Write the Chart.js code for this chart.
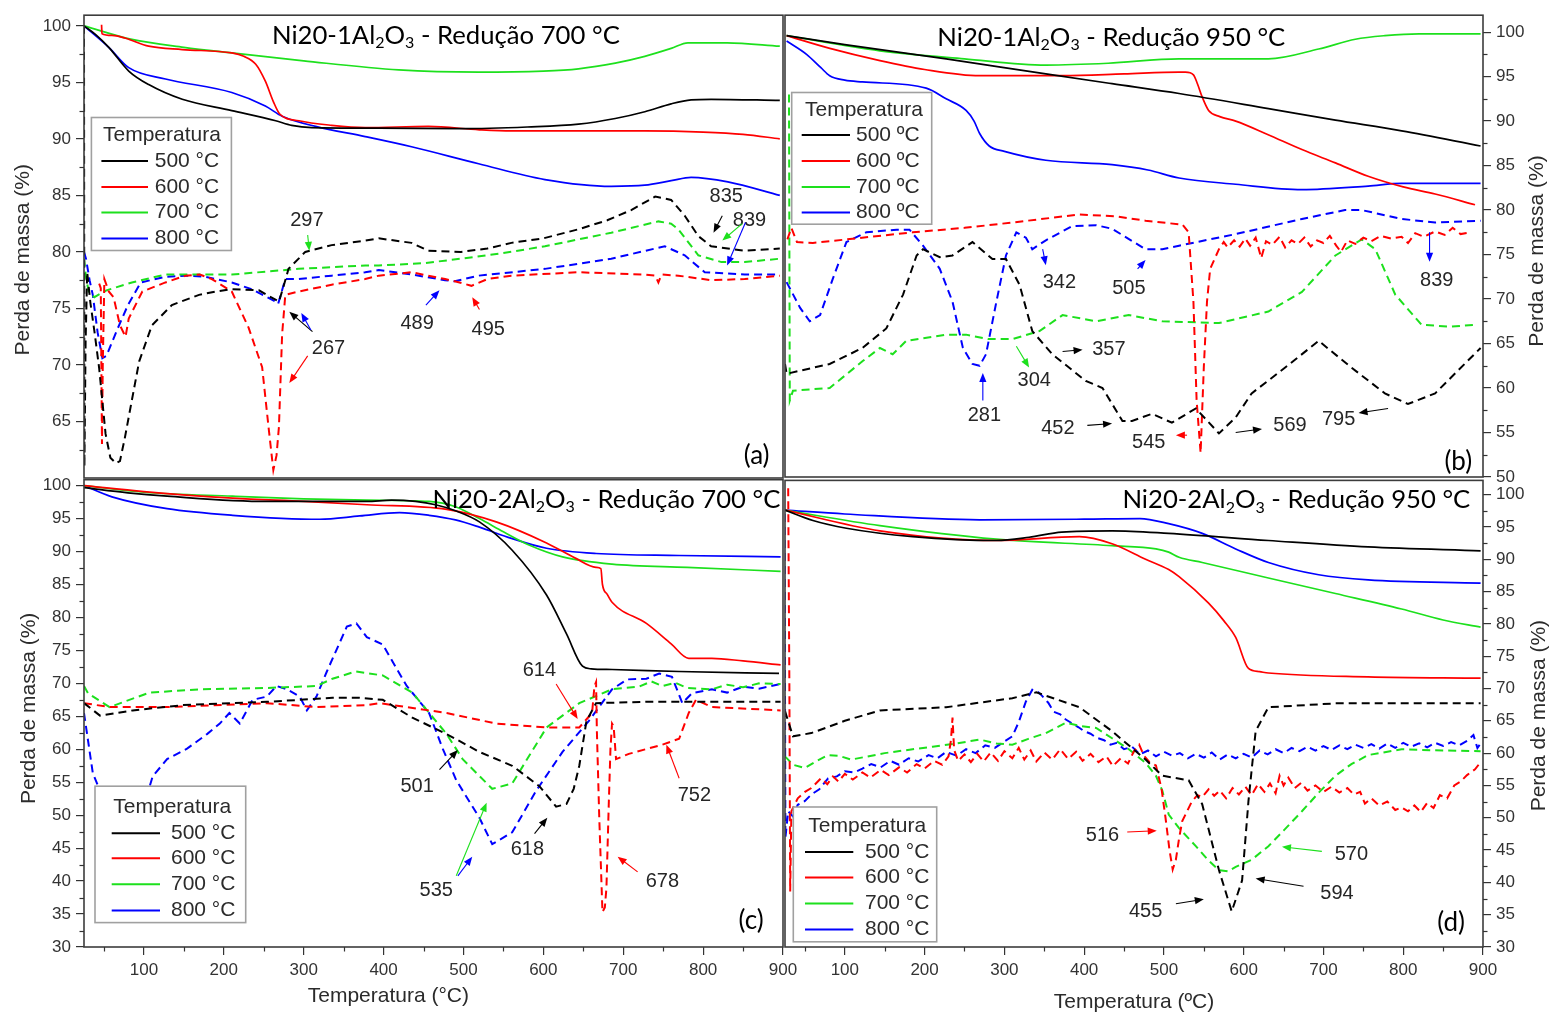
<!DOCTYPE html>
<html lang="pt">
<head>
<meta charset="utf-8">
<title>Perda de massa - Ni20-Al2O3</title>
<script src="https://cdn.jsdelivr.net/npm/chart.js@4.4.1/dist/chart.umd.min.js"></script>
<style>
html,body{margin:0;padding:0;background:#fff;}
#wrap{position:relative;width:1550px;height:1016px;overflow:hidden;background:#fff;}
#wrap canvas{position:absolute;left:0;top:0;}
</style>
</head>
<body>
<div id="wrap">
<canvas id="pa" width="1550" height="1016"></canvas>
<canvas id="pb" width="1550" height="1016"></canvas>
<canvas id="pc" width="1550" height="1016"></canvas>
<canvas id="pd" width="1550" height="1016"></canvas>
</div>
<script>
// ---- labels and ticks ----
const SERIES_DEG = ['500 °C', '600 °C', '700 °C', '800 °C'];
const SERIES_ORD = ['500 ºC', '600 ºC', '700 ºC', '800 ºC'];
const X_TICKS = [100, 200, 300, 400, 500, 600, 700, 800, 900];
const Y_TICKS_A = [65, 70, 75, 80, 85, 90, 95, 100];
const Y_TICKS_B = [50, 55, 60, 65, 70, 75, 80, 85, 90, 95, 100];
const Y_TICKS_CD = [30, 35, 40, 45, 50, 55, 60, 65, 70, 75, 80, 85, 90, 95, 100];

// ---- (a) Ni20-1Al2O3, redução 700 °C : [temperatura, %] ----
const aTg500 = [[25,100],[40,99.2],[56,98.1],[81,96.0],[106,94.8],[148,93.5],[210,92.5],[265,91.6],[285,91.2],[310,91.0],[394,90.95],[497,90.9],[580,91.05],[644,91.3],[690,91.8],[727,92.4],[760,93.1],[785,93.45],[810,93.5],[896,93.4]];
const aTg600 = [[47,100.1],[47.5,99.3],[60,99.15],[77,98.9],[106,98.2],[148,97.9],[210,97.6],[225,97.3],[240,96.6],[252,95.1],[262,93.3],[270,92.2],[294,91.6],[335,91.2],[377,91.0],[456,91.1],[520,90.8],[560,90.7],[727,90.7],[800,90.6],[850,90.4],[896,90.0]];
const aTg700 = [[25,100],[85,98.8],[150,98.1],[210,97.6],[300,96.9],[419,96.1],[519,95.9],[600,96.0],[644,96.2],[690,96.7],[727,97.3],[760,98.0],[781,98.5],[830,98.5],[896,98.2]];
const aTg800 = [[25,100],[56,98.1],[81,96.3],[127,95.3],[210,94.1],[252,92.9],[273,92.0],[315,91.1],[377,90.2],[435,89.3],[519,87.8],[602,86.4],[685,85.8],[727,85.9],[760,86.3],[785,86.6],[831,86.2],[896,85.0]];
const aDtg500 = [[25,100],[25.5,61],[27,72],[29,78.2],[33,75.5],[38,73],[44,69.7],[52,63.9],[58,61.8],[65,61.3],[70,61.5],[76,63.5],[81,65.4],[94,70.3],[110,73.5],[135,75.3],[169,76.2],[190,76.5],[210,76.7],[244,76.6],[269,75.6],[275,77.0],[281,78.5],[302,80.0],[335,80.6],[377,81.0],[394,81.2],[435,80.8],[456,80.1],[497,80.0],[530,80.3],[560,80.8],[600,81.2],[644,82.0],[680,82.8],[710,83.7],[740,84.9],[760,84.6],[777,83.2],[794,81.4],[810,80.5],[852,80.1],[896,80.3]];
const aDtg600 = [[44,77.2],[46,76.8],[47.5,63],[48.5,70],[50.5,77.6],[56,76.5],[62,76.0],[70,73.5],[77,72.5],[81,74.1],[98,76.5],[127,77.3],[152,77.9],[170,78.0],[185,77.6],[210,76.5],[231,73.3],[248,69.8],[256,64.5],[262,60.7],[266,62],[269,64.5],[273,72.7],[277,76.2],[294,76.5],[335,77.1],[377,77.6],[394,77.9],[435,78.2],[477,77.6],[495,77.3],[510,77.0],[530,77.6],[560,77.9],[644,78.2],[727,78.0],[740,77.9],[744,77.3],[748,78.0],[769,77.9],[810,77.5],[852,77.6],[896,77.9]];
const aDtg700 = [[25,79.4],[28,77.5],[31,76.5],[38,76.0],[53,76.6],[85,77.3],[127,78.0],[210,78.0],[294,78.5],[377,78.8],[394,78.8],[450,79.0],[497,79.4],[550,79.9],[602,80.5],[685,81.7],[744,82.7],[760,82.5],[769,82.0],[794,79.7],[823,79.1],[852,79.1],[896,79.4]];
const aDtg800 = [[25,80.0],[27.5,79.4],[32,77.5],[36,76.2],[42,72.9],[48,70.6],[53,70.8],[67,73.2],[80,75.3],[96,77.3],[127,77.8],[152,77.9],[177,77.8],[210,77.3],[235,76.7],[265,75.6],[268,75.4],[277,77.6],[294,77.6],[335,77.9],[377,78.2],[394,78.4],[435,78.0],[477,77.5],[489,77.4],[519,77.9],[602,78.5],[685,79.4],[752,80.5],[777,79.7],[802,78.2],[852,78.0],[896,78.0]];

// ---- (b) Ni20-1Al2O3, redução 950 °C ----
const bTg500 = [[27,99.6],[100,98.6],[227,97.0],[352,95.3],[435,94.2],[519,93.1],[631,91.4],[715,90.1],[798,88.9],[897,87.2]];
const bTg600 = [[27,99.6],[80,98.2],[144,96.8],[200,95.8],[269,95.1],[373,95.1],[450,95.3],[519,95.5],[527,95.5],[537,95.2],[542,94.2],[548,92.7],[556,91.2],[570,90.5],[590,90.0],[630,88.5],[673,86.8],[715,85.3],[756,83.8],[800,82.6],[840,81.8],[890,80.6]];
const bTg700 = [[27,99.6],[144,97.9],[250,97.0],[352,96.3],[430,96.5],[519,97.0],[631,97.0],[694,98.1],[740,99.2],[777,99.6],[820,99.8],[897,99.8]];
const bTg800 = [[27,99.0],[52,97.5],[70,96.0],[81,95.1],[100,94.6],[122,94.4],[202,93.7],[227,92.5],[252,91.2],[262,90.0],[269,88.6],[281,87.2],[300,86.6],[352,85.6],[435,85.1],[480,84.5],[519,83.6],[590,82.9],[673,82.3],[756,82.7],[798,83.0],[897,83.0]];
const bDtg500 = [[25,62.7],[27,61.6],[81,62.7],[122,64.5],[152,66.7],[173,70.5],[190,74.9],[198,75.6],[219,74.7],[235,74.9],[260,76.4],[285,74.5],[302,74.5],[319,71.6],[335,66.4],[360,63.8],[381,62.3],[402,60.8],[423,60.0],[448,56.3],[460,56.3],[485,57.1],[510,56.1],[540,57.7],[569,54.9],[590,56.7],[610,59.4],[652,62.3],[694,65.3],[735,62.3],[777,59.4],[806,58.2],[840,59.4],[897,64.5]];
const bDtg600 = [[28,76.7],[33,78.0],[40,76.4],[60,76.3],[102,76.7],[185,77.5],[250,78.0],[310,78.6],[394,79.5],[440,79.3],[477,78.8],[519,78.4],[523,78.4],[531,77.5],[537,69.7],[541,58.6],[546,52.7],[550,62.3],[554,69.7],[558,73.4],[569,75.6],[575,76.4],[580,75.8],[588,76.6],[595,75.9],[602,76.8],[608,76.0],[615,76.9],[622,74.6],[628,76.5],[636,76.1],[645,77.0],[652,75.8],[660,76.6],[668,76.2],[676,76.9],[684,75.9],[692,76.6],[700,76.3],[708,77.1],[716,76.0],[722,75.3],[730,76.6],[740,76.2],[750,76.9],[760,76.5],[772,77.1],[785,76.8],[798,77.0],[806,76.3],[815,77.4],[826,77.0],[840,77.6],[852,77.2],[862,78.0],[872,77.3],[885,77.5]];
const bDtg700 = [[30,93],[31,58.6],[35,59.7],[81,60.0],[122,63.0],[144,64.5],[160,63.8],[177,65.3],[227,66.0],[252,66.0],[280,65.5],[310,65.5],[344,66.4],[373,68.2],[415,67.5],[456,68.2],[498,67.5],[569,67.3],[631,68.6],[673,70.8],[715,74.9],[748,76.7],[765,75.6],[790,70.5],[823,67.1],[860,66.9],[890,67.1]];
const bDtg800 = [[27,71.9],[44,69.0],[56,67.5],[69,68.2],[85,72.3],[102,76.4],[127,77.5],[165,77.8],[181,77.8],[198,76.0],[219,73.4],[235,69.7],[248,64.5],[260,62.7],[269,62.5],[277,63.8],[290,69.7],[302,74.9],[315,77.5],[327,76.9],[335,75.6],[352,76.6],[385,78.2],[415,78.3],[435,77.9],[477,75.6],[498,75.6],[519,76.0],[590,77.3],[673,79.0],[727,80.0],[748,80.0],[798,79.0],[840,78.6],[897,78.8]];

// ---- (c) Ni20-2Al2O3, redução 700 °C ----
const cTg500 = [[25,99.7],[80,98.9],[129,98.4],[254,97.6],[379,97.6],[410,97.8],[440,97.6],[465,97.1],[490,96.2],[520,94.5],[561,90.2],[604,83.4],[629,77.5],[649,72.6],[660,72.2],[686,72.1],[770,71.8],[895,71.5]];
const cTg600 = [[25,100],[100,99.1],[211,98.1],[300,97.6],[379,97.1],[479,96.4],[541,94.5],[604,91.3],[640,89.0],[666,87.6],[672,87.4],[674,85.0],[680,83.5],[686,82.3],[729,79.1],[760,76.0],[782,73.8],[811,73.8],[850,73.4],[897,72.8]];
const cTg700 = [[25,100],[100,99.0],[211,98.4],[300,98.0],[379,97.8],[457,97.6],[490,96.8],[520,95.0],[550,93.0],[582,91.0],[624,89.2],[686,88.1],[780,87.6],[897,87.0]];
const cTg800 = [[25,100],[60,98.3],[129,96.5],[211,95.5],[320,94.9],[370,95.4],[420,95.9],[457,95.5],[490,94.8],[520,93.7],[560,92.0],[604,90.5],[666,89.7],[770,89.4],[897,89.2]];
const cDtg500 = [[25,67.0],[45,65.1],[86,65.9],[149,66.7],[254,67.2],[336,67.8],[370,67.8],[399,67.5],[436,64.8],[479,62.3],[520,59.6],[561,57.5],[595,54.4],[616,51.3],[629,51.7],[638,54.0],[645,57.5],[654,64.3],[666,67.0],[729,67.2],[897,67.2]];
const cDtg600 = [[25,67.0],[57,66.4],[129,66.4],[254,67.0],[316,66.4],[379,66.7],[395,67.0],[479,65.5],[541,63.9],[604,63.3],[645,63.3],[661,65.5],[664,69.6],[666,70.2],[667,62.8],[670,49.6],[674,35.3],[677,36.0],[679,39.0],[682,52.1],[684,60.0],[686,63.9],[688,63.5],[691,58.5],[707,59.3],[749,60.7],[770,61.6],[782,65.5],[791,67.5],[811,66.4],[897,65.9]];
const cDtg700 = [[25,69.6],[30,68.5],[57,66.4],[107,68.6],[170,69.1],[254,69.3],[316,69.6],[336,70.7],[365,71.8],[399,71.2],[436,68.6],[479,62.3],[499,58.5],[536,54.0],[561,54.8],[604,63.3],[645,67.0],[686,69.1],[720,69.5],[735,70.3],[749,69.6],[765,70.1],[780,69.3],[811,69.1],[830,69.8],[850,69.4],[870,70.0],[897,69.9]];
const cDtg800 = [[25,65.5],[36,56.4],[45,53.7],[55,51.5],[70,50.2],[90,50.8],[105,53.5],[111,55.9],[129,58.5],[154,60.1],[179,62.3],[195,63.9],[207,65.5],[220,63.9],[236,67.5],[254,68.0],[266,69.6],[279,69.1],[295,68.0],[304,65.9],[316,68.0],[329,71.8],[354,78.6],[366,79.1],[379,77.0],[399,75.9],[416,72.3],[429,69.6],[457,65.5],[474,60.1],[491,55.3],[520,49.6],[536,45.6],[561,47.4],[591,53.7],[624,59.6],[657,64.3],[686,69.1],[705,70.6],[729,70.7],[745,71.5],[761,71.0],[774,67.0],[786,68.5],[811,69.1],[830,68.6],[850,69.5],[870,69.2],[897,69.9]];

// ---- (d) Ni20-2Al2O3, redução 950 °C ----
const dTg500 = [[25,97.6],[60,96.0],[102,94.8],[185,93.5],[290,92.9],[331,93.4],[372,94.2],[435,94.4],[506,94.0],[631,92.9],[756,91.9],[897,91.3]];
const dTg600 = [[25,97.6],[144,94.4],[290,92.9],[394,93.5],[435,92.4],[477,90.0],[506,88.4],[519,87.3],[556,83.2],[575,80.5],[590,77.9],[606,73.1],[620,72.6],[631,72.4],[756,71.8],[897,71.6]];
const dTg700 = [[25,97.6],[144,95.2],[290,93.1],[435,92.1],[490,91.6],[506,91.1],[519,90.3],[548,89.5],[631,87.1],[715,84.7],[798,82.3],[850,80.6],[897,79.5]];
const dTg800 = [[25,97.6],[100,97.0],[269,96.1],[400,96.2],[470,96.3],[506,95.5],[548,94.0],[590,91.6],[631,89.5],[694,87.6],[756,86.8],[897,86.3]];
const dDtg500 = [[25,66.5],[35,62.6],[58,63.1],[100,65.0],[144,66.6],[227,67.1],[310,68.5],[340,69.4],[394,67.1],[435,63.4],[477,59.0],[498,56.5],[531,55.8],[548,52.1],[569,41.9],[585,35.5],[598,40.3],[606,52.6],[615,63.4],[631,67.1],[715,67.7],[897,67.7]];
const dDtg600 = [[29,101],[30.5,70],[31.5,38.6],[33,51.0],[41,53.0],[50,54.0],[58,54.6],[70,56.1],[78,55.2],[85,56.4],[92,55.6],[100,56.8],[110,55.9],[122,57.0],[132,56.2],[145,57.4],[155,56.6],[168,57.8],[178,57.0],[190,58.3],[200,57.6],[212,58.8],[222,58.2],[230,59.5],[233,62.0],[235,65.5],[237,60.5],[242,58.8],[250,59.8],[258,58.6],[266,59.9],[274,58.7],[283,60.1],[292,58.8],[300,60.3],[310,59.2],[318,60.8],[325,59.0],[333,60.4],[340,58.7],[350,60.1],[360,59.0],[370,60.6],[380,59.1],[390,60.2],[398,58.8],[408,59.9],[418,58.6],[428,59.5],[436,58.0],[446,59.2],[455,58.4],[462,60.2],[469,61.3],[475,59.6],[482,58.6],[490,58.1],[497,54.5],[502,50.0],[507,45.0],[511,42.0],[515,43.5],[519,46.8],[523,49.5],[527,50.5],[535,52.5],[542,53.5],[548,53.2],[556,54.4],[563,53.4],[570,54.2],[578,53.0],[586,54.6],[594,53.6],[602,54.8],[610,53.5],[618,55.2],[626,54.0],[633,55.3],[640,53.8],[645,56.5],[650,55.0],[656,56.2],[664,54.6],[672,55.4],[680,54.2],[690,55.0],[700,54.0],[710,54.8],[720,53.9],[730,54.6],[738,53.6],[746,54.0],[752,52.2],[760,53.0],[770,51.9],[780,52.5],[790,51.2],[798,51.6],[806,51.0],[814,51.9],[822,50.9],[830,52.3],[838,51.5],[846,53.5],[855,53.0],[864,55.0],[872,55.6],[880,56.6],[890,57.5],[897,58.6]];
const dDtg700 = [[25,59.5],[35,58.2],[50,57.7],[65,58.8],[79,59.7],[92,59.6],[108,59.0],[125,59.4],[150,60.0],[185,60.6],[210,61.0],[240,61.5],[269,62.1],[290,61.5],[310,61.3],[330,62.2],[352,63.1],[377,64.7],[395,64.2],[415,63.9],[435,62.3],[456,60.6],[477,58.5],[490,56.5],[498,54.2],[506,50.5],[519,48.4],[540,45.6],[555,43.5],[569,41.9],[580,41.7],[590,42.4],[610,43.5],[631,45.6],[650,48.0],[673,51.0],[695,54.0],[715,56.5],[735,58.3],[756,59.7],[798,60.6],[850,60.4],[897,60.3]];
const dDtg800 = [[24.5,97],[25,70],[25.5,46.9],[29,51.0],[35,50.2],[41,52.0],[50,52.6],[58,53.6],[68,54.4],[79,56.1],[90,56.4],[100,57.2],[112,57.0],[122,57.6],[133,58.3],[145,57.8],[157,58.8],[168,58.2],[180,59.2],[192,58.7],[205,59.7],[216,59.2],[227,60.2],[240,59.6],[252,60.6],[264,60.0],[276,61.2],[288,60.8],[300,61.8],[310,62.6],[318,64.8],[327,68.0],[335,69.8],[341,69.6],[347,68.9],[355,67.8],[362,66.4],[370,66.0],[377,65.2],[385,64.6],[393,64.0],[400,63.4],[408,63.0],[415,62.4],[425,62.0],[433,61.3],[441,61.6],[450,60.6],[460,61.0],[470,59.8],[480,60.4],[490,59.5],[500,60.2],[510,59.6],[520,60.0],[530,59.2],[540,59.9],[550,59.3],[560,60.1],[570,59.0],[580,59.8],[590,59.2],[600,59.9],[610,59.3],[620,60.4],[630,59.8],[640,60.6],[650,60.0],[660,60.8],[670,60.3],[680,61.0],[690,60.4],[700,61.1],[710,60.5],[720,61.2],[730,60.6],[740,61.3],[750,60.8],[760,61.4],[770,60.7],[780,61.5],[790,60.8],[800,61.6],[810,61.0],[820,61.5],[830,60.9],[840,61.6],[850,61.1],[860,61.7],[870,61.2],[880,61.9],[888,62.8],[893,60.8],[897,61.5]];

// ---- drawing styles ----
const COLORS = ['#000000', '#ff0000', '#1de01d', '#0000ff'];
const SANS = "'Liberation Sans', Arial, sans-serif";
const HEAD = "Lato, 'Open Sans', sans-serif";
const INK = '#333333';

function arrow(ctx, x1, y1, x2, y2, color) {
  const a = Math.atan2(y2 - y1, x2 - x1), hl = 9, hw = 3.6;
  ctx.strokeStyle = color; ctx.fillStyle = color; ctx.lineWidth = 1.1;
  ctx.beginPath(); ctx.moveTo(x1, y1);
  ctx.lineTo(x2 - Math.cos(a) * hl * 0.7, y2 - Math.sin(a) * hl * 0.7); ctx.stroke();
  ctx.beginPath(); ctx.moveTo(x2, y2);
  ctx.lineTo(x2 - hl * Math.cos(a) + hw * Math.sin(a), y2 - hl * Math.sin(a) - hw * Math.cos(a));
  ctx.lineTo(x2 - hl * Math.cos(a) - hw * Math.sin(a), y2 - hl * Math.sin(a) + hw * Math.cos(a));
  ctx.closePath(); ctx.fill();
}

function richText(ctx, segs, cx, cy, size) {
  const big = size + 'px ' + HEAD, small = Math.round(size * 0.64) + 'px ' + HEAD;
  let w = 0;
  segs.forEach(s => { ctx.font = s[1] ? small : big; w += ctx.measureText(s[0]).width; });
  let x = cx - w / 2;
  const base = cy + size * 0.36;
  ctx.textAlign = 'left'; ctx.textBaseline = 'alphabetic'; ctx.fillStyle = '#000';
  segs.forEach(s => {
    ctx.font = s[1] ? small : big;
    ctx.fillText(s[0], x, base + (s[1] ? size * 0.16 : 0));
    x += ctx.measureText(s[0]).width;
  });
}

// decorations of one panel: frame, minor ticks, legend, notes, titles
function makeDeco(p) {
  return {
    id: 'deco_' + p.id,
    afterDatasetsDraw(chart) {
      const ctx = chart.ctx, ca = chart.chartArea;
      const xs = chart.scales.x, ys = chart.scales.y;
      const X = v => xs.getPixelForValue(v), Y = v => ys.getPixelForValue(v);
      ctx.save();

      // point labels with arrows
      p.notes.forEach(n => {
        ctx.font = '20px ' + SANS; ctx.fillStyle = '#262626';
        ctx.textAlign = 'center'; ctx.textBaseline = 'middle';
        ctx.fillText(n.t, X(n.x), Y(n.y));
        n.ar.forEach(a => arrow(ctx, X(a[1]), Y(a[2]), X(a[3]), Y(a[4]), COLORS[a[0]]));
      });

      // legend box
      const L = p.legend, bx = ca.left + L.dx, by = ca.top + L.dy;
      ctx.fillStyle = '#ffffff';
      ctx.fillRect(bx, by, L.w, L.h);
      ctx.strokeStyle = '#a0a0a0'; ctx.lineWidth = 1.6;
      ctx.strokeRect(bx, by, L.w, L.h);
      ctx.font = '21px ' + SANS; ctx.fillStyle = '#2b2b2b';
      ctx.textAlign = 'left'; ctx.textBaseline = 'middle';
      ctx.fillText('Temperatura', bx + L.tx, by + L.ty);
      L.rows.forEach((ry, i) => {
        ctx.strokeStyle = chart.data.datasets[i].borderColor; ctx.lineWidth = 2;
        ctx.beginPath(); ctx.moveTo(bx + L.l0, by + ry); ctx.lineTo(bx + L.l1, by + ry); ctx.stroke();
        ctx.fillStyle = '#2b2b2b';
        ctx.fillText(p.names[i], bx + L.lt, by + ry);
      });

      // panel title and letter
      richText(ctx, p.title, X(p.titleAt[0]), Y(p.titleAt[1]), 25.7);
      ctx.font = '26px ' + HEAD; ctx.fillStyle = '#000';
      ctx.textAlign = 'center'; ctx.textBaseline = 'middle';
      ctx.fillText(p.letter, X(p.letterAt[0]), Y(p.letterAt[1]));

      // frame
      ctx.strokeStyle = '#3c3c3c'; ctx.lineWidth = 1.6;
      ctx.strokeRect(ca.left, ca.top, ca.right - ca.left, ca.bottom - ca.top);
      ctx.restore();
    },
    afterDraw(chart) {
      const ctx = chart.ctx, ca = chart.chartArea;
      const xs = chart.scales.x, ys = chart.scales.y;
      ctx.save();
      ctx.strokeStyle = INK; ctx.lineWidth = 1.2;
      // minor ticks on the value axis
      const left = p.ySide === 'left';
      for (let v = Math.ceil(ys.min / 2.5) * 2.5; v <= ys.max; v += 2.5) {
        if (v % 5 === 0) continue;
        const py = Math.round(ys.getPixelForValue(v)) + 0.5;
        const x0 = left ? ca.left : ca.right;
        ctx.beginPath(); ctx.moveTo(x0, py); ctx.lineTo(x0 + (left ? -4.5 : 4.5), py); ctx.stroke();
      }
      // minor ticks on the temperature axis
      if (p.showX) {
        for (let v = 50; v < 900; v += 100) {
          const px = Math.round(xs.getPixelForValue(v)) + 0.5;
          ctx.beginPath(); ctx.moveTo(px, ca.bottom); ctx.lineTo(px, ca.bottom + 4.5); ctx.stroke();
        }
      }
      // axis titles
      ctx.fillStyle = '#2b2b2b'; ctx.font = '21px ' + SANS;
      ctx.textAlign = 'center'; ctx.textBaseline = 'middle';
      const tx = left ? ca.left - p.yTitleOff : ca.right + p.yTitleOff;
      ctx.save();
      ctx.translate(tx, ys.getPixelForValue(p.yTitleAt));
      ctx.rotate(-Math.PI / 2);
      ctx.fillText('Perda de massa (%)', 0, 0);
      ctx.restore();
      if (p.showX) {
        ctx.fillText(p.xTitle, xs.getPixelForValue(p.xTitleAt), ca.bottom + p.xTitleOff);
      }
      ctx.restore();
    }
  };
}

function buildPanel(p) {
  const datasets = [];
  p.dtg.forEach((d, i) => datasets.push({
    data: d, borderColor: COLORS[i], borderWidth: 2, borderDash: [8, 5],
    pointRadius: 0, tension: 0, fill: false
  }));
  p.tg.forEach((d, i) => datasets.push({
    data: d, borderColor: COLORS[i], borderWidth: 1.7,
    pointRadius: 0, cubicInterpolationMode: 'monotone', fill: false
  }));
  // legend reads colours from the first four datasets
  const tickFont = { family: SANS, size: 17 };
  new Chart(document.getElementById(p.id), {
    type: 'line',
    data: { datasets },
    options: {
      responsive: false, animation: false, devicePixelRatio: 1, events: [],
      layout: { padding: p.pad },
      plugins: { legend: { display: false }, tooltip: { enabled: false } },
      scales: {
        x: {
          type: 'linear', position: 'bottom', min: 25, max: 900, bounds: 'data',
          display: p.showX,
          afterBuildTicks: s => { s.ticks = X_TICKS.map(v => ({ value: v })); },
          afterFit: s => { s.height = p.xH; },
          grid: { drawOnChartArea: false, drawTicks: true, tickLength: 8, color: INK, lineWidth: 1.2 },
          border: { display: false },
          ticks: { color: INK, font: tickFont, padding: 5, maxRotation: 0 }
        },
        y: {
          type: 'linear', position: p.ySide, min: p.yMin, max: p.yMax, bounds: 'data',
          afterBuildTicks: s => { s.ticks = p.yTicks.map(v => ({ value: v })); },
          afterFit: s => { s.width = p.yW; },
          grid: { drawOnChartArea: false, drawTicks: true, tickLength: 8, color: INK, lineWidth: 1.2 },
          border: { display: false },
          ticks: { color: INK, font: tickFont, padding: 5 }
        }
      }
    },
    plugins: [makeDeco(p)]
  });
}

function panel(cfg) {
  buildPanel(Object.assign({}, cfg));
}

panel({
  id: 'pa', names: SERIES_DEG, ySide: 'left', showX: false,
  pad: { left: 0, right: 767, top: 11, bottom: 538 }, yW: 84, xH: 0,
  yMin: 60, yMax: 100.94, yTicks: Y_TICKS_A,
  tg: [aTg500, aTg600, aTg700, aTg800], dtg: [aDtg500, aDtg600, aDtg700, aDtg800],
  title: [['Ni20-1Al', 0], ['2', 1], ['O', 0], ['3', 1], [' - Redução 700 °C', 0]], titleAt: [478, 99.2],
  letter: '(a)', letterAt: [867, 62.0],
  yTitleOff: 61, yTitleAt: 79.3,
  legend: { dx: 7.4, dy: 102.3, w: 140, h: 133, tx: 11.6, ty: 17.7, rows: [43.4, 69.4, 95, 121], l0: 10, l1: 56.6, lt: 63.3 },
  notes: [
    { t: '297', x: 304, y: 82.8, ar: [[2, 305, 81.5, 307, 80.1]] },
    { t: '267', x: 331, y: 71.5, ar: [[0, 311, 72.95, 282, 74.7], [3, 309, 73.1, 297, 74.6], [1, 305, 70.8, 282, 68.4]] },
    { t: '489', x: 442, y: 73.7, ar: [[3, 453, 75.3, 470, 76.6]] },
    { t: '495', x: 531, y: 73.1, ar: [[1, 520, 74.9, 511, 76.0]] },
    { t: '835', x: 829, y: 84.9, ar: [[0, 824, 83.2, 813, 81.7]] },
    { t: '839', x: 858, y: 82.75, ar: [[2, 849, 82.5, 824, 81.0], [3, 853, 82.6, 830, 78.8]] }
  ]
});

panel({
  id: 'pb', names: SERIES_ORD, ySide: 'right', showX: false,
  pad: { left: 785, right: 0, top: 11, bottom: 539 }, yW: 67, xH: 0,
  yMin: 50, yMax: 101.9, yTicks: Y_TICKS_B,
  tg: [bTg500, bTg600, bTg700, bTg800], dtg: [bDtg500, bDtg600, bDtg700, bDtg800],
  title: [['Ni20-1Al', 0], ['2', 1], ['O', 0], ['3', 1], [' - Redução 950 °C', 0]], titleAt: [434, 99.5],
  letter: '(b)', letterAt: [869, 51.7],
  yTitleOff: 54, yTitleAt: 75.4,
  legend: { dx: 6.7, dy: 77.3, w: 140, h: 131.7, tx: 13.3, ty: 17.7, rows: [42.4, 68.4, 94.4, 120], l0: 10, l1: 58.3, lt: 64.3 },
  notes: [
    { t: '342', x: 369, y: 71.9, ar: [[3, 348, 75.6, 352, 73.8]] },
    { t: '505', x: 456, y: 71.2, ar: [[3, 467, 73.4, 477, 74.4]] },
    { t: '281', x: 275, y: 56.9, ar: [[3, 273, 58.6, 273, 61.7]] },
    { t: '304', x: 337.5, y: 60.8, ar: [[2, 315, 64.7, 331, 62.3]] },
    { t: '357', x: 431, y: 64.3, ar: [[0, 373, 64.1, 398, 64.3]] },
    { t: '452', x: 367, y: 55.4, ar: [[0, 404, 55.8, 435, 56.0]] },
    { t: '545', x: 481, y: 53.9, ar: [[1, 529, 54.7, 515, 54.7]] },
    { t: '569', x: 658, y: 55.8, ar: [[0, 590, 55.0, 623, 55.4]] },
    { t: '795', x: 719, y: 56.5, ar: [[0, 781, 57.7, 744, 57.2]] },
    { t: '839', x: 842, y: 72.1, ar: [[3, 833, 77.5, 833, 74.2]] }
  ]
});

panel({
  id: 'pc', names: SERIES_DEG, ySide: 'left', showX: true,
  pad: { left: 0, right: 767, top: 479.7, bottom: 0 }, yW: 84, xH: 69,
  yMin: 30, yMax: 100.9, yTicks: Y_TICKS_CD,
  tg: [cTg500, cTg600, cTg700, cTg800], dtg: [cDtg500, cDtg600, cDtg700, cDtg800],
  title: [['Ni20-2Al', 0], ['2', 1], ['O', 0], ['3', 1], [' - Redução 700 °C', 0]], titleAt: [679, 98.0],
  letter: '(c)', letterAt: [860, 34.0],
  yTitleOff: 55, yTitleAt: 66.2,
  xTitle: 'Temperatura (°C)', xTitleAt: 406, xTitleOff: 49,
  legend: { dx: 11, dy: 306.5, w: 150.7, h: 136.4, tx: 18.3, ty: 20.8, rows: [47, 72, 98.1, 124.3], l0: 16.7, l1: 65, lt: 76 },
  notes: [
    { t: '614', x: 595, y: 72.0, ar: [[1, 616, 69.9, 643, 64.6]] },
    { t: '501', x: 442, y: 54.3, ar: [[0, 470, 56.9, 493, 59.9]] },
    { t: '535', x: 466, y: 38.5, ar: [[2, 491, 40.8, 529, 51.9], [3, 493, 40.8, 511, 43.7]] },
    { t: '618', x: 580, y: 44.8, ar: [[0, 589, 47.2, 605, 49.6]] },
    { t: '678', x: 749, y: 40.0, ar: [[1, 718, 41.4, 693, 43.7]] },
    { t: '752', x: 789, y: 53.0, ar: [[1, 770, 55.6, 754, 60.7]] }
  ]
});

panel({
  id: 'pd', names: SERIES_DEG, ySide: 'right', showX: true,
  pad: { left: 785, right: 0, top: 480.4, bottom: 0 }, yW: 67, xH: 69,
  yMin: 30, yMax: 102.2, yTicks: Y_TICKS_CD,
  tg: [dTg500, dTg600, dTg700, dTg800], dtg: [dDtg500, dDtg600, dDtg700, dDtg800],
  title: [['Ni20-2Al', 0], ['2', 1], ['O', 0], ['3', 1], [' - Redução 950 °C', 0]], titleAt: [666, 99.3],
  letter: '(d)', letterAt: [860, 33.8],
  yTitleOff: 56, yTitleAt: 65.8,
  xTitle: 'Temperatura (ºC)', xTitleAt: 462.5, xTitleOff: 55,
  legend: { dx: 8.3, dy: 326.6, w: 143.4, h: 134.8, tx: 15, ty: 18.8, rows: [45, 70.4, 96.5, 122.6], l0: 11.7, l1: 60, lt: 71.7 },
  notes: [
    { t: '516', x: 423, y: 47.2, ar: [[1, 454, 47.8, 491, 48.0]] },
    { t: '455', x: 477, y: 35.5, ar: [[0, 515, 36.7, 550, 37.4]] },
    { t: '570', x: 735, y: 44.3, ar: [[2, 698, 44.8, 648, 45.5]] },
    { t: '594', x: 717, y: 38.3, ar: [[0, 675, 39.4, 615, 40.6]] }
  ]
});
</script>
</body>
</html>
